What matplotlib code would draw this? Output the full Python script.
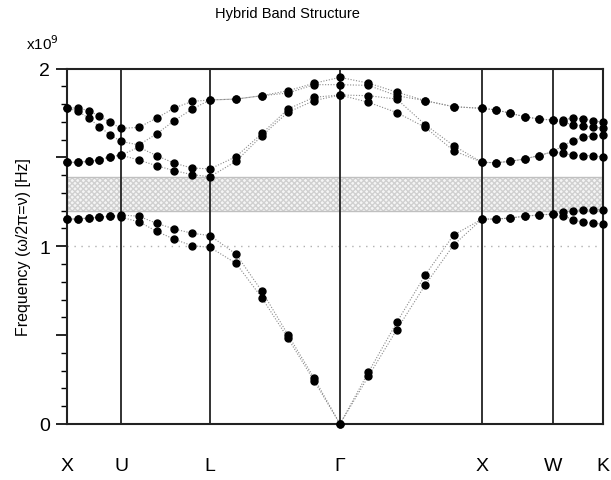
import numpy as np
import matplotlib.pyplot as plt

plt.rcParams['font.family'] = ['Liberation Sans', 'DejaVu Sans']
plt.rcParams['hatch.color'] = '#d0d0d0'

# high-symmetry points and their positions along the k-path
k_labels = ['X', 'U', 'L', 'Γ', 'X', 'W', 'K']
k_nodes = [0, 54, 143, 273, 415, 486, 536]
pts_per_seg = 6

# band frequencies (x1e9 Hz), 31 k-points each, sorted low -> high
band0 = [1.153, 1.153, 1.159, 1.163, 1.170, 1.163, 1.138, 1.084, 1.039, 1.003, 0.994,
         0.904, 0.709, 0.482, 0.244, 0.0, 0.268, 0.531, 0.782, 1.007, 1.153,
         1.153, 1.159, 1.169, 1.176, 1.181, 1.172, 1.150, 1.135, 1.129, 1.125]
band1 = [1.153, 1.153, 1.159, 1.163, 1.170, 1.176, 1.169, 1.129, 1.097, 1.073, 1.060,
         0.956, 0.746, 0.502, 0.259, 0.0, 0.291, 0.572, 0.838, 1.063, 1.153,
         1.153, 1.159, 1.169, 1.176, 1.181, 1.191, 1.200, 1.204, 1.206, 1.205]
band2 = [1.472, 1.472, 1.478, 1.485, 1.504, 1.513, 1.485, 1.453, 1.425, 1.403, 1.391,
         1.478, 1.622, 1.754, 1.819, 1.851, 1.810, 1.752, 1.669, 1.538, 1.472,
         1.470, 1.478, 1.491, 1.510, 1.532, 1.523, 1.513, 1.510, 1.510, 1.502]
band3 = [1.472, 1.472, 1.478, 1.485, 1.504, 1.513, 1.557, 1.510, 1.467, 1.440, 1.435,
         1.504, 1.635, 1.772, 1.838, 1.851, 1.847, 1.828, 1.684, 1.566, 1.472,
         1.470, 1.478, 1.491, 1.510, 1.532, 1.566, 1.594, 1.613, 1.622, 1.626]
band4 = [1.778, 1.760, 1.721, 1.673, 1.626, 1.590, 1.570, 1.632, 1.707, 1.772, 1.823,
         1.828, 1.847, 1.862, 1.909, 1.909, 1.905, 1.847, 1.819, 1.785, 1.776,
         1.767, 1.748, 1.729, 1.716, 1.710, 1.697, 1.684, 1.678, 1.669, 1.666]
band5 = [1.778, 1.778, 1.763, 1.731, 1.697, 1.663, 1.669, 1.721, 1.778, 1.815, 1.823,
         1.828, 1.847, 1.875, 1.917, 1.950, 1.918, 1.867, 1.819, 1.785, 1.776,
         1.767, 1.748, 1.729, 1.716, 1.710, 1.712, 1.721, 1.716, 1.707, 1.697]
bands = [band0, band1, band2, band3, band4, band5]

gap_lo, gap_hi = 1.2, 1.39
ref_line = 1.0

# k sample positions, evenly spaced inside each segment
kx = [k_nodes[0]]
for a, b in zip(k_nodes[:-1], k_nodes[1:]):
    kx += list(np.linspace(a, b, pts_per_seg))[1:]
kx = np.array(kx)

fig = plt.figure(figsize=(6.11, 4.81), dpi=100)
ax = fig.add_axes([67/611, 1-425/481, 536/611, 355.5/481])

# band gap
ax.axhspan(gap_lo, gap_hi, facecolor='#f5f5f5', edgecolor='#d0d0d0', hatch='xxxxxx', lw=0, zorder=1)
ax.axhline(gap_lo, color='#c0c0c0', lw=1.0, zorder=1)
ax.axhline(gap_hi, color='#c0c0c0', lw=1.0, zorder=1)
ax.axhline(ref_line, color='#b0b0b0', lw=1.0, ls=(0, (1, 4)), zorder=1)

for xv in k_nodes[1:-1]:
    ax.axvline(xv, color='#222222', lw=1.3, zorder=2)

for b in bands:
    ax.plot(kx, b, color='#8a8a8a', lw=0.8, ls=(0, (1, 1.5)), zorder=3)
    ax.plot(kx, b, ls='none', marker='o', ms=5, color='black', zorder=4, clip_on=False)

ax.set_xlim(k_nodes[0], k_nodes[-1])
ax.set_ylim(0, 2)
ax.set_xticks(k_nodes)
ax.set_xticklabels(k_labels, fontsize=14)
ax.tick_params(axis='x', length=0, pad=24)

ax.set_yticks([0, 0.5, 1, 1.5, 2])
ax.set_yticklabels(['0', '', '1', '', '2'], fontsize=14)
ax.set_yticks(np.arange(0, 2.01, 0.1), minor=True)
ax.tick_params(axis='y', which='major', length=8, width=1.2, direction='out', pad=4)
ax.tick_params(axis='y', which='minor', length=4, width=1.0, direction='out')

for s in ax.spines.values():
    s.set_linewidth(1.5)
    s.set_color('#222222')

ax.set_ylabel('Frequency (ω/2π=ν) [Hz]', fontsize=11.5, labelpad=6)
fig.text(287/611, 0.971, 'Hybrid Band Structure', ha='center', va='center', fontsize=10.5)
fig.text(0.043, 0.91, r'x10$^9$', ha='left', va='center', fontsize=11)

fig.savefig('out.png', dpi=100)
